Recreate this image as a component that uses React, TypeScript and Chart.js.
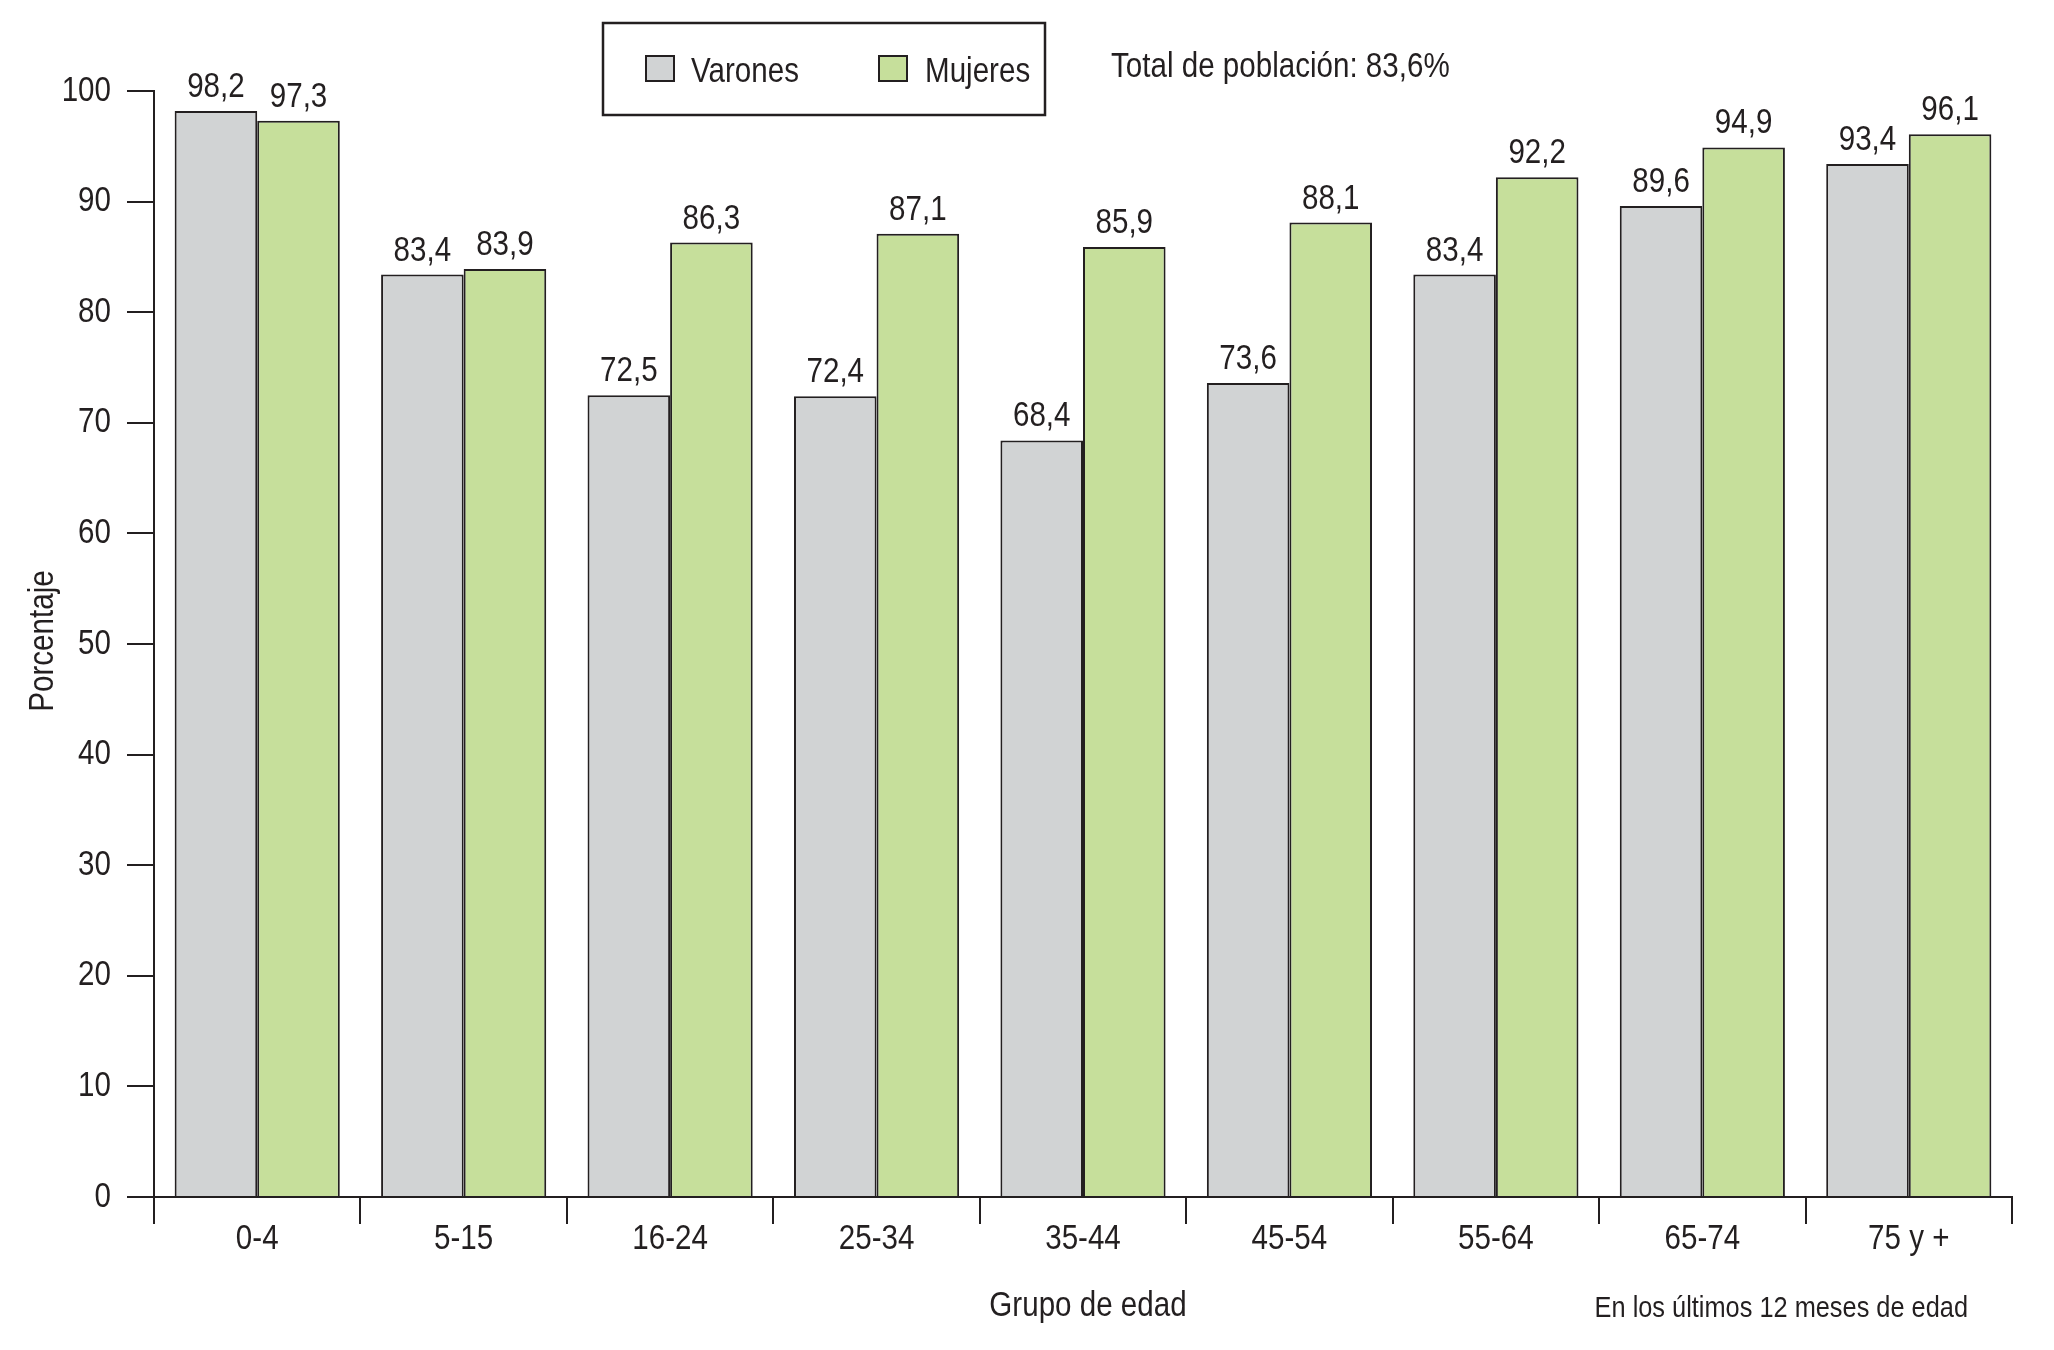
import React, { useEffect, useRef } from "react";
import { Chart, registerables } from "chart.js";

Chart.register(...registerables);

const categories = ["0-4", "5-15", "16-24", "25-34", "35-44", "45-54", "55-64", "65-74", "75 y +"];
const varones = [98.2, 83.4, 72.5, 72.4, 68.4, 73.6, 83.4, 89.6, 93.4];
const mujeres = [97.3, 83.9, 86.3, 87.1, 85.9, 88.1, 92.2, 94.9, 96.1];
const seriesLabels = ["Varones", "Mujeres"];
const yMin = 0;
const yMax = 100;
const yStep = 10;
const totalLabel = "Total de población: 83,6%";
const xTitle = "Grupo de edad";
const yTitle = "Porcentaje";
const footnote = "En los últimos 12 meses de edad";

const FONT = "'Liberation Sans', Arial, Helvetica, sans-serif";
const NARROW = 0.845;
const INK = "#231f20";
const GRAY = "#d1d3d4";
const GREEN = "#c6df9b";

const fmt = (v: number) => v.toFixed(1).replace(".", ",");

const extrasPlugin = {
  id: "extras",
  beforeDraw(chart: any) {
    // condensed look: draw all text horizontally narrowed around its anchor
    const ctx = chart.ctx as any;
    if (!ctx.__origFillText) {
      const orig = ctx.fillText;
      ctx.__origFillText = orig;
      ctx.fillText = function (text: string, x: number, y: number) {
        this.save();
        this.translate(x, y);
        this.scale(NARROW, 1);
        orig.call(this, text, 0, 0);
        this.restore();
      };
    }
  },
  afterDraw(chart: any) {
    const ctx = chart.ctx as CanvasRenderingContext2D;
    ctx.save();
    ctx.fillStyle = INK;
    ctx.strokeStyle = INK;

    // data labels
    ctx.font = `35px ${FONT}`;
    ctx.textAlign = "center";
    ctx.textBaseline = "alphabetic";
    chart.data.datasets.forEach((ds: any, di: number) => {
      const meta = chart.getDatasetMeta(di);
      meta.data.forEach((el: any, i: number) => {
        ctx.fillText(fmt(ds.data[i]), el.x, el.y - 14);
      });
    });

    // legend box
    ctx.lineWidth = 2.5;
    ctx.strokeRect(603, 23, 442, 92);
    const legendItems = [
      { x: 646, tx: 691 },
      { x: 879, tx: 925 },
    ];
    chart.data.datasets.forEach((ds: any, di: number) => {
      const it = legendItems[di];
      ctx.fillStyle = ds.backgroundColor;
      ctx.fillRect(it.x, 56, 28, 25);
      ctx.lineWidth = 2;
      ctx.strokeStyle = INK;
      ctx.strokeRect(it.x, 56, 28, 25);
      ctx.fillStyle = INK;
      ctx.textAlign = "left";
      ctx.fillText(ds.label, it.tx, 82);
    });

    // total
    ctx.textAlign = "left";
    ctx.fillText(totalLabel, 1111, 77);

    // x title
    ctx.textAlign = "center";
    ctx.fillText(xTitle, 1088, 1316);

    // footnote
    ctx.font = `30px ${FONT}`;
    ctx.textAlign = "right";
    ctx.fillText(footnote, 1968, 1317);

    // y title
    ctx.font = `35px ${FONT}`;
    ctx.save();
    ctx.translate(53, 641);
    ctx.rotate(-Math.PI / 2);
    ctx.textAlign = "center";
    ctx.textBaseline = "alphabetic";
    ctx.fillText(yTitle, 0, 0);
    ctx.restore();

    ctx.restore();
  },
};

export default function App() {
  const ref = useRef<HTMLCanvasElement | null>(null);

  useEffect(() => {
    if (!ref.current) return;
    const chart = new Chart(ref.current, {
      type: "bar",
      data: {
        labels: categories,
        datasets: [
          {
            label: seriesLabels[0],
            data: varones,
            backgroundColor: GRAY,
            borderColor: INK,
            borderWidth: 2,
            categoryPercentage: 0.8,
            barPercentage: 1.0,
          },
          {
            label: seriesLabels[1],
            data: mujeres,
            backgroundColor: GREEN,
            borderColor: INK,
            borderWidth: 2,
            categoryPercentage: 0.8,
            barPercentage: 1.0,
          },
        ],
      },
      options: {
        animation: false,
        responsive: false,
        devicePixelRatio: 1,
        layout: { padding: { top: 91, right: 42, bottom: 0, left: 0 } },
        plugins: {
          legend: { display: false },
          tooltip: { enabled: false },
        },
        scales: {
          x: {
            grid: {
              offset: true,
              drawOnChartArea: false,
              drawTicks: true,
              tickLength: 27,
              color: INK,
              lineWidth: 2,
            },
            border: { display: true, color: INK, width: 2 },
            ticks: {
              color: INK,
              font: { family: FONT, size: 35 },
              padding: -6,
              maxRotation: 0,
              autoSkip: false,
            },
            afterFit(scale: any) {
              scale.height = 153;
            },
          },
          y: {
            min: yMin,
            max: yMax,
            grid: {
              drawOnChartArea: false,
              drawTicks: true,
              tickLength: 27,
              color: INK,
              lineWidth: 2,
            },
            border: { display: true, color: INK, width: 2 },
            ticks: {
              stepSize: yStep,
              color: INK,
              font: { family: FONT, size: 35 },
              padding: 16,
            },
            afterFit(scale: any) {
              scale.width = 154;
            },
          },
        },
      },
      plugins: [extrasPlugin],
    });
    return () => chart.destroy();
  }, []);

  return (
    <div style={{ position: "absolute", left: 0, top: 0, width: 2054, height: 1350, background: "#fff" }}>
      <canvas ref={ref} width={2054} height={1350} style={{ display: "block" }} />
    </div>
  );
}
